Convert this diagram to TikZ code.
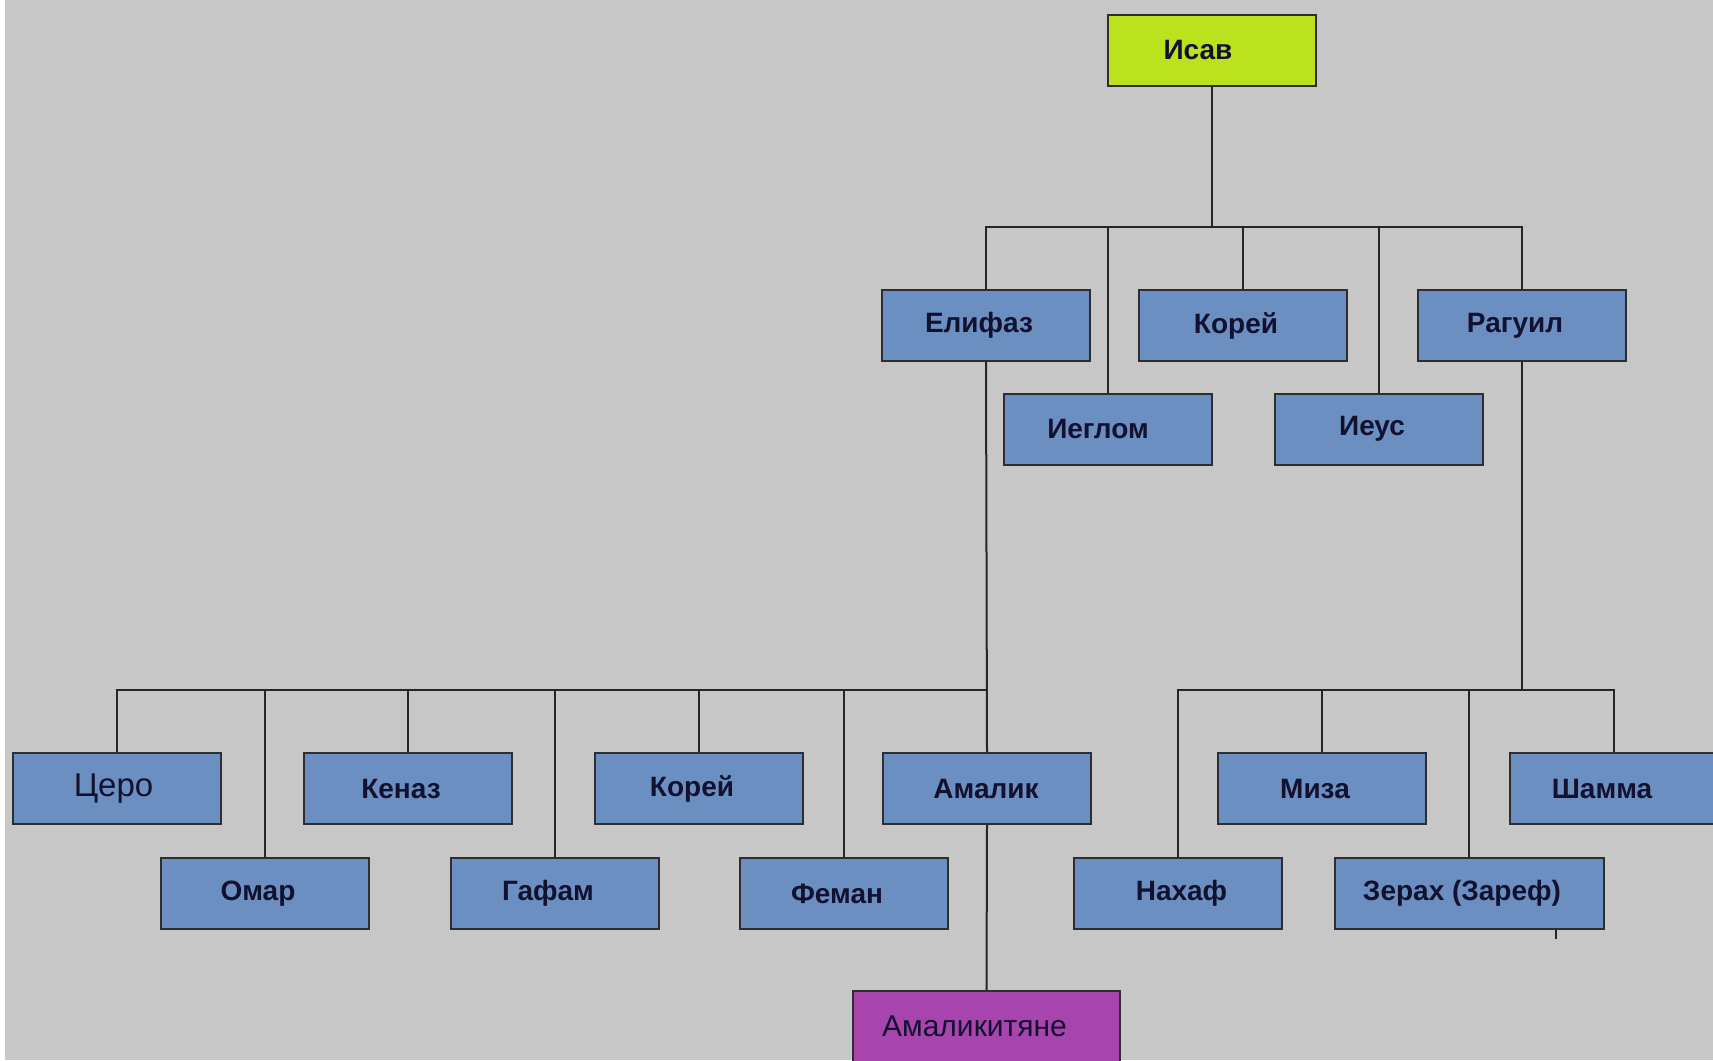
\documentclass[tikz,border=0pt]{standalone}
\usepackage{fontspec}
\setmainfont{Liberation Sans}
\definecolor{bg}{RGB}{199,199,199}
\definecolor{boxblue}{RGB}{107,143,192}
\definecolor{boxgreen}{RGB}{188,226,30}
\definecolor{boxpurple}{RGB}{168,68,174}
\definecolor{txt}{RGB}{18,18,48}
\definecolor{edge}{RGB}{45,45,50}
\begin{document}
\begin{tikzpicture}[x=1pt,y=-1pt,
  box/.style={draw=edge,line width=2pt,fill=boxblue,minimum width=208pt,minimum height=71pt,inner sep=0pt,
    font=\fontsize{28}{32}\selectfont\bfseries,text=txt,execute at begin node=\kern-14pt},
  link/.style={draw=black!85,line width=2pt}]
\clip (0,0) rectangle (1713,1060);
\fill[bg] (0,0) rectangle (1713,1060);
\fill[white] (0,0) rectangle (5,1060);
% nodes
\node[box,fill=boxgreen,execute at begin node=\kern-14pt] (isav) at (1212,50) {Исав};
\node[box] (elif) at (986,325.5) {Елифаз};
\node[box] (korey1) at (1243,325.5) {Корей};
\node[box] (ragu) at (1522,325.5) {Рагуил};
\node[box,execute at begin node=\kern-6pt] (iegl) at (1108,429) {Иеглом};
\node[box] (ieus) at (1379,429) {Иеус};
\node[box,font=\fontsize{33}{36}\selectfont,execute at begin node=\kern7pt] (cero) at (117,788.5) {Церо};
\node[box] (kenaz) at (408,788.5) {Кеназ};
\node[box] (korey2) at (699,788.5) {Корей};
\node[box,execute at begin node=\kern12pt] (amal) at (987,788.5) {Амалик};
\node[box] (omar) at (265,893.5) {Омар};
\node[box] (gafam) at (555,893.5) {Гафам};
\node[box] (feman) at (844,893.5) {Феман};
\node[box] (miza) at (1322,788.5) {Миза};
\node[box,execute at begin node=\kern-10pt] (shamma) at (1614,788.5) {Шамма};
\node[box,execute at begin node=\kern21pt] (nahaf) at (1178,893.5) {Нахаф};
\node[box,minimum width=269pt] (zerah) at (1469,893.5) {Зерах (Зареф)};
\node[box,fill=boxpurple,minimum width=267pt,font=\fontsize{30}{34}\selectfont,execute at begin node=\kern-10pt] (amalik2) at (986.5,1026.5) {Амаликитяне};
% bus coordinates
\coordinate (b1) at (1212,227);
\coordinate (b2) at (986,690);
\coordinate (b3) at (1522,690);
\coordinate (tk) at (1556,939);
% top level
\draw[link] (isav.south) -- (b1);
\draw[link] (elif.north) |- (b1) -| (ragu.north);
\draw[link] (iegl.north) -- (iegl.north |- b1);
\draw[link] (korey1.north) -- (korey1.north |- b1);
\draw[link] (ieus.north) -- (ieus.north |- b1);
% Elifaz branch
\draw[link] (elif.south) -- (amal.north);
\draw[link] (cero.north) |- (b2);
\draw[link] (omar.north) -- (omar.north |- b2);
\draw[link] (kenaz.north) -- (kenaz.north |- b2);
\draw[link] (gafam.north) -- (gafam.north |- b2);
\draw[link] (korey2.north) -- (korey2.north |- b2);
\draw[link] (feman.north) -- (feman.north |- b2);
\draw[link] (amal.south) -- (amalik2.north);
% Raguel branch
\draw[link] (ragu.south) -- (b3);
\draw[link] (nahaf.north) |- (b3) -| (shamma.north);
\draw[link] (miza.north) -- (miza.north |- b3);
\draw[link] (zerah.north) -- (zerah.north |- b3);
\draw[link] (tk) -- (tk |- zerah.south);
\end{tikzpicture}
\end{document}
